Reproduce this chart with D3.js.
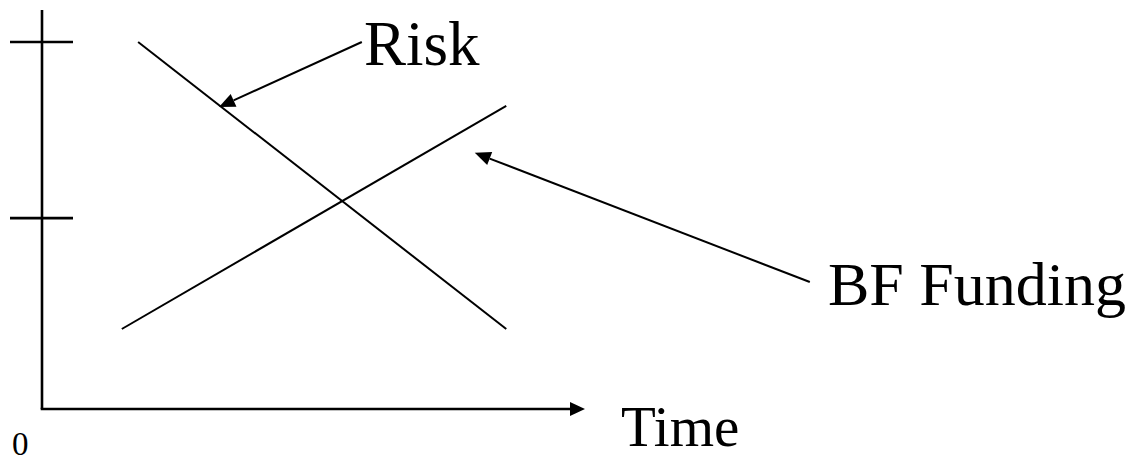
<!DOCTYPE html>
<html>
<head>
<meta charset="utf-8">
<script src="https://cdn.jsdelivr.net/npm/d3@7"></script>
<style>
html,body{margin:0;padding:0;background:#fff;}
svg{display:block;}
</style>
</head>
<body>
<svg id="chart" width="1139" height="457"></svg>
<script>
// ---- data ----
const seriesNames = ["Risk", "BF Funding"];
const riskX = [17.7, 85.5];
const riskY = [100, 21.8];
const fundX = [14.7, 85.5];
const fundY = [21.8, 82.6];
const yTickValues = [52, 100];
const xAxisLabel = "Time";
const originLabel = "0";
// annotation arrows: [label anchor (x,y), arrow tip (x,y)] in data units
const riskArrow = [[58.9, 100], [32.6, 82.3]];
const fundArrow = [[141.4, 34.6], [79.7, 69.8]];

const FONT = "'Liberation Serif', 'Times New Roman', Times, 'DejaVu Serif', serif";

// ---- scales ----
const svg = d3.select("#chart");
const x = d3.scaleLinear().domain([0, 100]).range([42, 585]);
const y = d3.scaleLinear().domain([0, 100]).range([409, 42]);
const yTop = 108.7;

function arrowHead(g, x1, y1, x2, y2, len, half) {
  const a = Math.atan2(y2 - y1, x2 - x1);
  const bx = x2 - len * Math.cos(a), by = y2 - len * Math.sin(a);
  const px = -Math.sin(a) * half, py = Math.cos(a) * half;
  g.append("path")
    .attr("d", `M${x2},${y2}L${bx + px},${by + py}L${bx - px},${by - py}Z`)
    .attr("fill", "#000");
  return [bx, by];
}

// y axis line
svg.append("line")
  .attr("x1", x(0)).attr("x2", x(0))
  .attr("y1", y(yTop)).attr("y2", y(0))
  .attr("stroke", "#000").attr("stroke-width", 2.6);

// y ticks (crossing the axis)
svg.selectAll("line.ytick").data(yTickValues).join("line")
  .attr("class", "ytick")
  .attr("x1", 10).attr("x2", 73)
  .attr("y1", d => y(d)).attr("y2", d => y(d))
  .attr("stroke", "#000").attr("stroke-width", 2.6);

// x axis with arrow
const ax = svg.append("g");
const xEnd = x(100);
const [xb] = arrowHead(ax, x(0), y(0), xEnd, y(0), 15, 7);
ax.insert("line", ":first-child")
  .attr("x1", x(0) - 1.3).attr("x2", xb + 1)
  .attr("y1", y(0)).attr("y2", y(0))
  .attr("stroke", "#000").attr("stroke-width", 2.6);

// series lines
const line = d3.line().x(d => x(d[0])).y(d => y(d[1]));
const riskPts = riskX.map((v, i) => [v, riskY[i]]);
const fundPts = fundX.map((v, i) => [v, fundY[i]]);
svg.append("path").attr("d", line(riskPts))
  .attr("fill", "none").attr("stroke", "#000").attr("stroke-width", 2);
svg.append("path").attr("d", line(fundPts))
  .attr("fill", "none").attr("stroke", "#000").attr("stroke-width", 2);

// annotation arrows
function annot(arr) {
  const g = svg.append("g");
  const x1 = x(arr[0][0]), y1 = y(arr[0][1]);
  const x2 = x(arr[1][0]), y2 = y(arr[1][1]);
  const [bx, by] = arrowHead(g, x1, y1, x2, y2, 16, 7);
  g.insert("line", ":first-child")
    .attr("x1", x1).attr("y1", y1).attr("x2", bx).attr("y2", by)
    .attr("stroke", "#000").attr("stroke-width", 2);
}
annot(riskArrow);
annot(fundArrow);

// labels
function label(tx, ty, size, str) {
  svg.append("text").attr("x", tx).attr("y", ty)
    .attr("font-family", FONT).attr("font-size", size)
    .attr("fill", "#000").text(str);
}
label(364, 65, 63, seriesNames[0]);
label(828, 305, 62, seriesNames[1]);
label(621, 446, 57, xAxisLabel);
label(12, 455, 33, originLabel);
</script>
</body>
</html>
